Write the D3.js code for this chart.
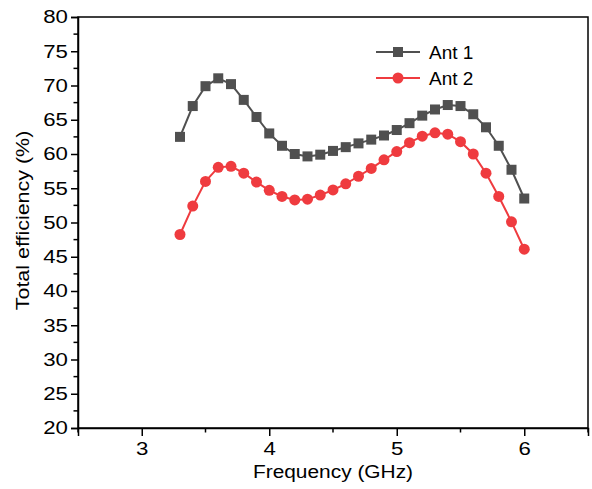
<!DOCTYPE html>
<html>
<head>
<meta charset="utf-8">
<script src="https://d3js.org/d3.v7.min.js"></script>
<style>
  body { margin: 0; background: #fff; }
  svg text { font-family: "Liberation Sans", Arial, sans-serif; fill: #000; }
</style>
</head>
<body>
<svg id="chart" width="592" height="489"></svg>
<script>
var freq = [3.3, 3.4, 3.5, 3.6, 3.7, 3.8, 3.9, 4.0, 4.1, 4.2, 4.3, 4.4, 4.5, 4.6,
            4.7, 4.8, 4.9, 5.0, 5.1, 5.2, 5.3, 5.4, 5.5, 5.6, 5.7, 5.8, 5.9, 6.0];
var ant1 = [62.5, 67.0, 69.9, 71.05, 70.2, 67.9, 65.4, 63.0, 61.2, 60.0, 59.65, 59.9, 60.45, 61.0,
            61.55, 62.1, 62.7, 63.5, 64.5, 65.6, 66.5, 67.15, 67.0, 65.8, 63.9, 61.2, 57.7, 53.5];
var ant2 = [48.25, 52.4, 56.0, 58.05, 58.2, 57.2, 55.9, 54.7, 53.8, 53.3, 53.4, 54.0, 54.75, 55.65,
            56.75, 57.9, 59.15, 60.35, 61.65, 62.6, 63.1, 62.9, 61.8, 60.0, 57.2, 53.8, 50.1, 46.1];
var xTicks = [3, 4, 5, 6];
var yTicks = [20, 25, 30, 35, 40, 45, 50, 55, 60, 65, 70, 75, 80];
var seriesNames = ["Ant 1", "Ant 2"];

var margin = {top: 17, right: 4, bottom: 61, left: 78};
var width = 592 - margin.left - margin.right;
var height = 489 - margin.top - margin.bottom;

var svg = d3.select("#chart")
  .append("g")
    .attr("transform", "translate(" + margin.left + "," + margin.top + ")");

var x = d3.scaleLinear().domain([2.5, 6.5]).range([0, width]);
var y = d3.scaleLinear().domain([20, 80]).range([height, 0]);

var colors = ["#505050", "#ef3b3f"];

// frame
svg.append("rect")
  .attr("width", width).attr("height", height)
  .attr("fill", "none").attr("stroke", "#000").attr("stroke-width", 1.5);

// x axis, major + minor
var xAxis = svg.append("g")
  .attr("class", "x axis")
  .attr("transform", "translate(0," + height + ")");
xAxis.call(d3.axisBottom(x).tickValues(xTicks).tickFormat(d3.format("d")).tickSize(8).tickPadding(6));
xAxis.append("g").selectAll("line")
  .data([2.5, 3.5, 4.5, 5.5, 6.5])
  .enter().append("line")
    .attr("x1", function(d) { return x(d); })
    .attr("x2", function(d) { return x(d); })
    .attr("y1", 0).attr("y2", 4.5)
    .attr("stroke", "#000").attr("stroke-width", 1.5);

var yAxis = svg.append("g").attr("class", "y axis");
yAxis.call(d3.axisLeft(y).tickValues(yTicks).tickSize(7).tickPadding(4));
yAxis.append("g").selectAll("line")
  .data(d3.range(22.5, 80, 5))
  .enter().append("line")
    .attr("x1", 0).attr("x2", -4.5)
    .attr("y1", function(d) { return y(d); })
    .attr("y2", function(d) { return y(d); })
    .attr("stroke", "#000").attr("stroke-width", 1.5);

svg.selectAll(".axis .domain").attr("stroke-width", 1.5);
svg.selectAll(".axis .tick line").attr("stroke-width", 1.5);
svg.selectAll(".axis .tick text")
  .attr("font-size", "18.5px").attr("fill", "#000")
  .attr("transform", "scale(1.2,1)");
svg.selectAll(".y.axis .tick text").attr("x", -8.5);

svg.append("text")
  .attr("transform", "translate(" + (width / 2) + "," + (height + 50) + ") scale(1.13,1)")
  .attr("text-anchor", "middle").attr("font-size", "18.5px")
  .text("Frequency (GHz)");

svg.append("text")
  .attr("transform", "translate(-49," + (height / 2 - 2) + ") rotate(-90) scale(1.16,1)")
  .attr("text-anchor", "middle").attr("font-size", "18.5px")
  .text("Total efficiency (%)");

var line = d3.line()
  .x(function(d) { return x(d[0]); })
  .y(function(d) { return y(d[1]); });

var data1 = freq.map(function(f, i) { return [f, ant1[i]]; });
var data2 = freq.map(function(f, i) { return [f, ant2[i]]; });

svg.append("path").datum(data1)
  .attr("d", line).attr("fill", "none")
  .attr("stroke", colors[0]).attr("stroke-width", 2);
svg.append("g").selectAll("rect")
  .data(data1).enter().append("rect")
    .attr("x", function(d) { return x(d[0]) - 5; })
    .attr("y", function(d) { return y(d[1]) - 5; })
    .attr("width", 10).attr("height", 10)
    .attr("fill", colors[0]);

svg.append("path").datum(data2)
  .attr("d", line).attr("fill", "none")
  .attr("stroke", colors[1]).attr("stroke-width", 2);
svg.append("g").selectAll("circle")
  .data(data2).enter().append("circle")
    .attr("cx", function(d) { return x(d[0]); })
    .attr("cy", function(d) { return y(d[1]); })
    .attr("r", 5.5)
    .attr("fill", colors[1]);

// legend
var legend = svg.append("g")
    .attr("class", "legend")
  .selectAll("g")
  .data(seriesNames)
  .enter().append("g")
    .attr("transform", function(d, i) { return "translate(298," + (35 + i * 26) + ")"; });

legend.append("line")
  .attr("x1", 0).attr("x2", 44)
  .attr("stroke", function(d, i) { return colors[i]; })
  .attr("stroke-width", 2);
legend.filter(function(d, i) { return i === 0; }).append("rect")
  .attr("x", 17).attr("y", -5).attr("width", 10).attr("height", 10)
  .attr("fill", colors[0]);
legend.filter(function(d, i) { return i === 1; }).append("circle")
  .attr("cx", 22).attr("r", 5.5)
  .attr("fill", colors[1]);
legend.append("text")
  .attr("x", 53).attr("dy", "0.35em")
  .attr("font-size", "19px")
  .text(function(d) { return d; });
</script>
</body>
</html>
